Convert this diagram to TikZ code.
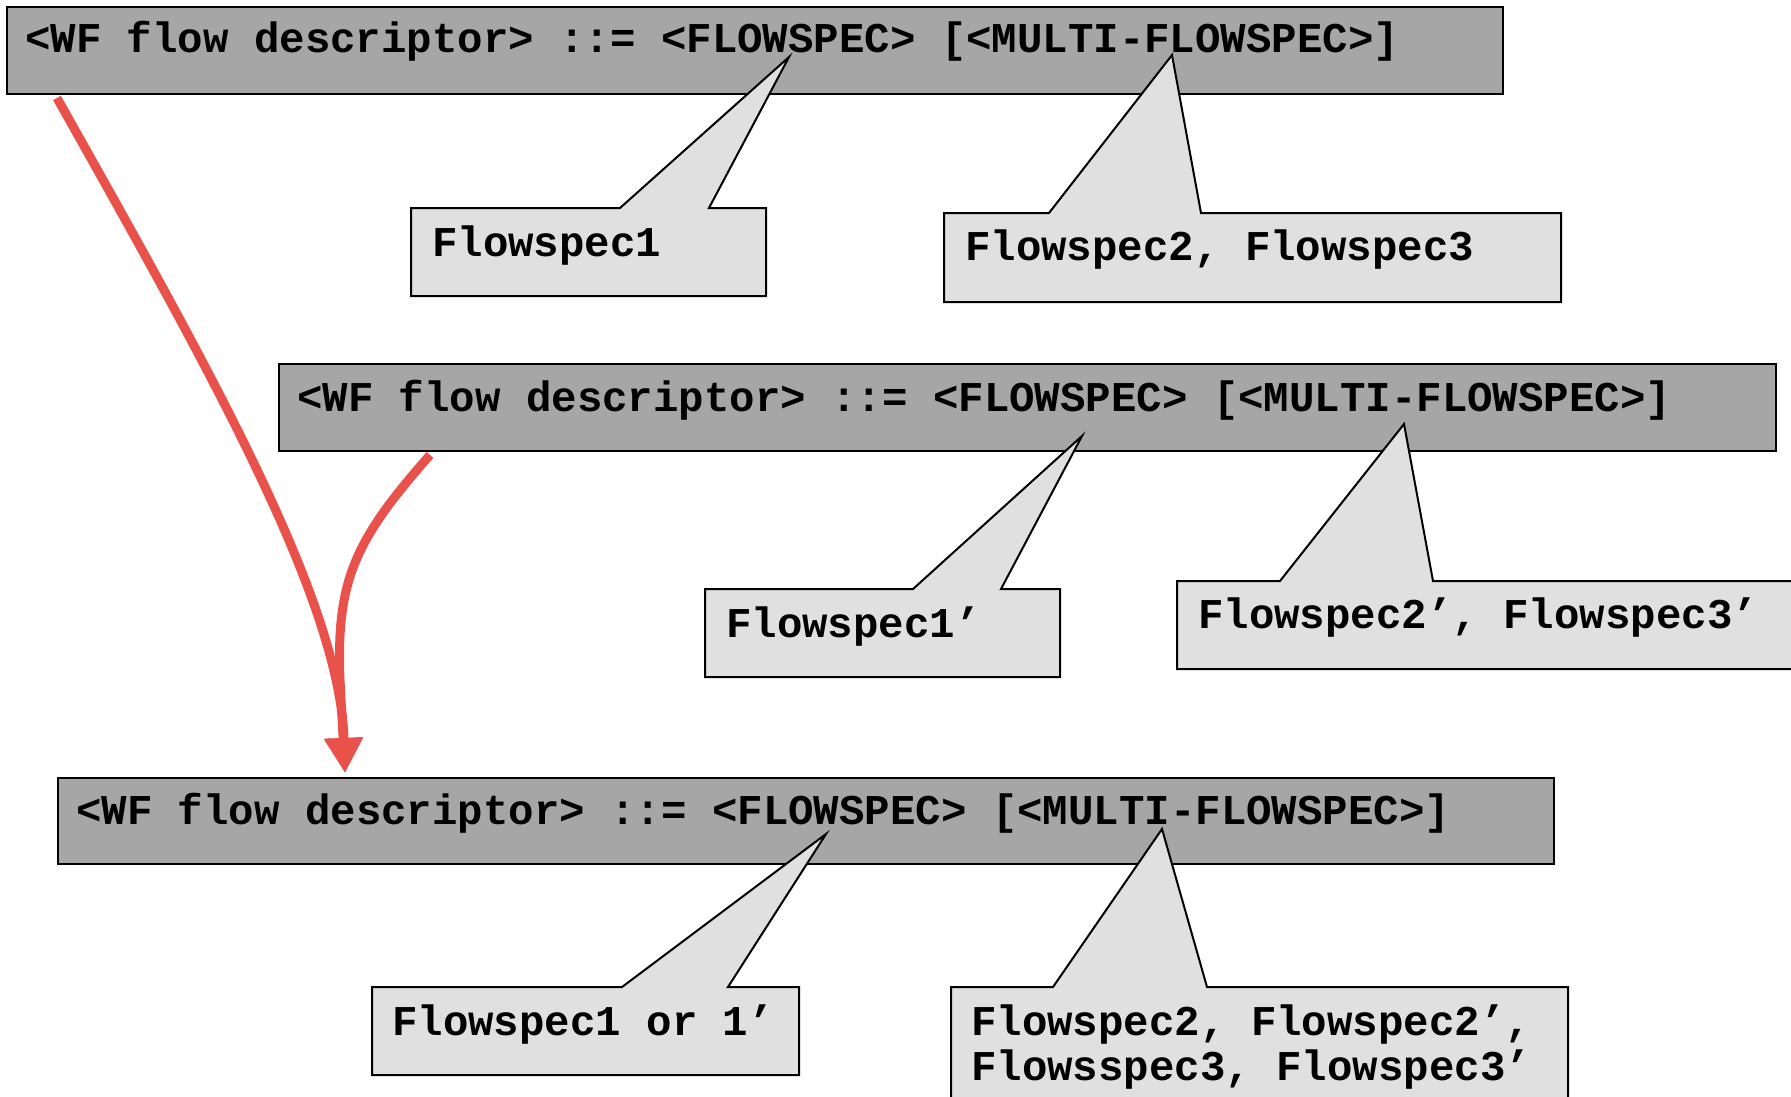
\documentclass[tikz,border=0pt]{standalone}
\usepackage{fontspec}
\setmainfont{Liberation Mono}
\usetikzlibrary{arrows.meta}
\definecolor{barfill}{HTML}{A6A6A6}
\definecolor{callfill}{HTML}{E0E0E0}
\definecolor{redarrow}{HTML}{E9524A}
\begin{document}
\begin{tikzpicture}[x=1pt,y=-1pt,
  barbox/.style={draw=black, line width=2pt, fill=barfill, anchor=north west, inner sep=0pt},
  callout/.style={draw=black, line width=2pt, fill=callfill, line join=miter},
  txt/.style={anchor=base west, inner sep=0pt, font=\fontsize{42.4}{45}\selectfont\bfseries},
  redline/.style={draw=redarrow, line width=9pt, -{Triangle[length=35pt,width=36pt]}}
]
\useasboundingbox (0,0) rectangle (1791,1097);
\clip (0,0) rectangle (1791,1097);
\fill[white] (0,0) rectangle (1791,1097);

% bars
\node[barbox, minimum width=1496pt, minimum height=87pt] (bar1) at (6,6) {};
\node[barbox, minimum width=1497pt, minimum height=87pt] (bar2) at (278,363) {};
\node[barbox, minimum width=1496pt, minimum height=86pt] (bar3) at (57,777) {};

% callouts
\draw[callout] (411,208) -- (620,208) -- (789,57) -- (709,208) -- (766,208) -- (766,296) -- (411,296) -- cycle;
\draw[callout] (944,213) -- (1049,213) -- (1172,55) -- (1201,213) -- (1561,213) -- (1561,302) -- (944,302) -- cycle;
\draw[callout] (705,589) -- (913,589) -- (1082,436) -- (1001,589) -- (1060,589) -- (1060,677) -- (705,677) -- cycle;
\draw[callout] (1177,581) -- (1280,581) -- (1404,424) -- (1433,581) -- (1800,581) -- (1800,669) -- (1177,669) -- cycle;
\draw[callout] (372,987) -- (622,987) -- (826,834) -- (728,987) -- (799,987) -- (799,1075) -- (372,1075) -- cycle;
\draw[callout] (951,987) -- (1053,987) -- (1162,829) -- (1207,987) -- (1568,987) -- (1568,1110) -- (951,1110) -- cycle;

% bar texts
\node[txt] (t1) at (25,53) {<WF flow descriptor> ::= <FLOWSPEC> [<MULTI-FLOWSPEC>]};
\node[txt] (t2) at (297,411) {<WF flow descriptor> ::= <FLOWSPEC> [<MULTI-FLOWSPEC>]};
\node[txt] (t3) at (76,824) {<WF flow descriptor> ::= <FLOWSPEC> [<MULTI-FLOWSPEC>]};

% callout texts
\node[txt] (c1) at (432,256) {Flowspec1};
\node[txt] (c2) at (965,260) {Flowspec2, Flowspec3};
\node[txt] (c3) at (726,637) {Flowspec1’};
\node[txt] (c4) at (1198,628) {Flowspec2’, Flowspec3’};
\node[txt] (c5) at (392,1035) {Flowspec1 or 1’};
\node[txt] (c6a) at (971,1035) {Flowspec2, Flowspec2’,};
\node[txt] (c6b) at (971,1080) {Flowsspec3, Flowspec3’};

% red arrows
\coordinate (s1) at (57,98);
\coordinate (s2) at (430,455);
\coordinate (tip) at (345,773);
\draw[redline] (s1) .. controls (210,370) and (340,600) .. (tip);
\draw[redline] (s2) .. controls (355,540) and (336,580) .. (340,680) -- (tip);
\end{tikzpicture}
\end{document}
